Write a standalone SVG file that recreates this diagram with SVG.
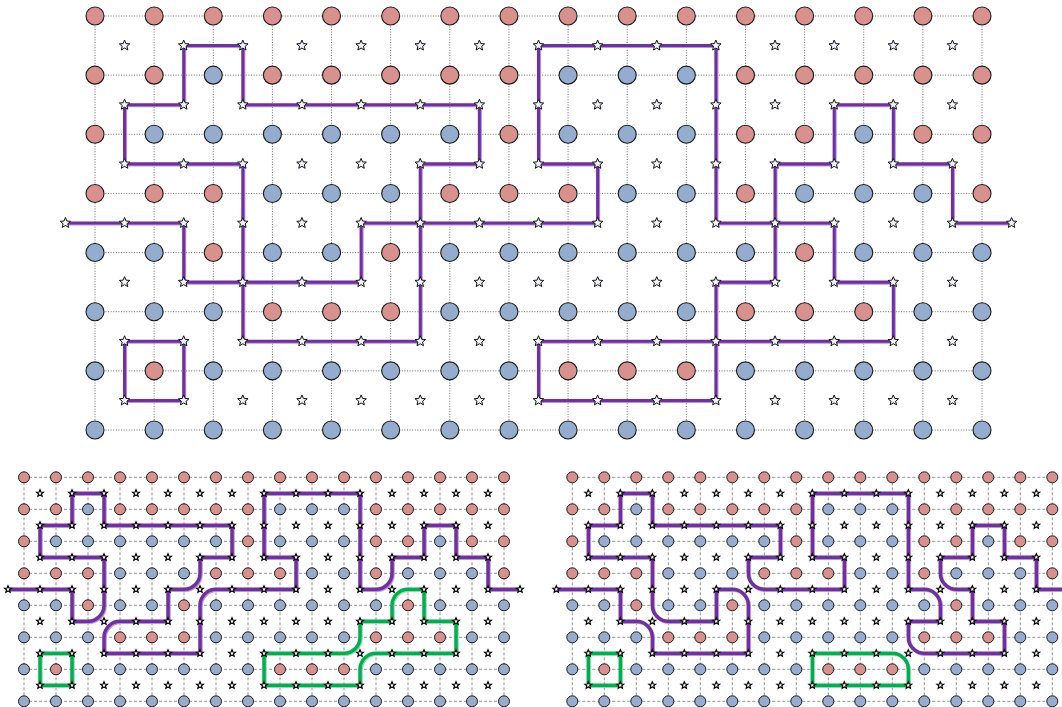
<svg xmlns="http://www.w3.org/2000/svg" xmlns:xlink="http://www.w3.org/1999/xlink" width="1062" height="707" viewBox="0 0 1062 707">
<style>
.r{fill:#d8918c}
.b{fill:#94adcf}
.tn circle{stroke:#1a1a1a;stroke-width:1.1}
.bn circle{stroke:#1a1a1a;stroke-width:1}
.tg{fill:none;stroke:#6e6e6e;stroke-width:1;stroke-dasharray:1 1.6}
.bg{fill:none;stroke:#939393;stroke-width:1;stroke-dasharray:3 2}
.pd{fill:none;stroke:#7030a0;stroke-linejoin:miter}
.pl{fill:none;stroke:#b796d8;stroke-linejoin:miter}
.gd{fill:none;stroke:#00b050;stroke-linejoin:miter}
.gl{fill:none;stroke:#8edcab;stroke-linejoin:miter}
.tw{stroke-width:0.052}
.bw{stroke-width:0.11}
</style>
<defs>
<path id="ts" d="M0-5.5L1.45-2L5.23-1.7L2.36 0.77L3.23 4.45L0 2.48L-3.23 4.45L-2.36 0.77L-5.23-1.7L-1.45-2Z" fill="#eef3fa" stroke="#111" stroke-width="1"/>
<path id="bs" d="M0-3.6L0.95-1.31L3.42-1.11L1.54 0.5L2.12 2.91L0 1.62L-2.12 2.91L-1.54 0.5L-3.42-1.11L-0.95-1.31Z" fill="#fff" stroke="#000" stroke-width="1.2"/>
</defs>

<g id="grids">
<path id="grid-top" class="tg" d="M95 16H982M95 75.14H982M95 134.29H982M95 193.43H982M95 252.57H982M95 311.71H982M95 370.86H982M95 430H982M95 16V430M154.13 16V430M213.27 16V430M272.4 16V430M331.53 16V430M390.67 16V430M449.8 16V430M508.93 16V430M568.07 16V430M627.2 16V430M686.33 16V430M745.47 16V430M804.6 16V430M863.73 16V430M922.87 16V430M982 16V430"/>
<path id="grid-bl" class="bg" d="M24 477.3H504M24 509.3H504M24 541.3H504M24 573.3H504M24 605.3H504M24 637.3H504M24 669.3H504M24 701.3H504M24 477.3V701.3M56 477.3V701.3M88 477.3V701.3M120 477.3V701.3M152 477.3V701.3M184 477.3V701.3M216 477.3V701.3M248 477.3V701.3M280 477.3V701.3M312 477.3V701.3M344 477.3V701.3M376 477.3V701.3M408 477.3V701.3M440 477.3V701.3M472 477.3V701.3M504 477.3V701.3"/>
<path id="grid-br" class="bg" transform="translate(548.3 0)" d="M24 477.3H504M24 509.3H504M24 541.3H504M24 573.3H504M24 605.3H504M24 637.3H504M24 669.3H504M24 701.3H504M24 477.3V701.3M56 477.3V701.3M88 477.3V701.3M120 477.3V701.3M152 477.3V701.3M184 477.3V701.3M216 477.3V701.3M248 477.3V701.3M280 477.3V701.3M312 477.3V701.3M344 477.3V701.3M376 477.3V701.3M408 477.3V701.3M440 477.3V701.3M472 477.3V701.3M504 477.3V701.3"/>
</g>

<g id="connectors">
<g id="conn-top">
<path class="pl tw" transform="translate(125.567 46.571) scale(59.133 59.143)" d="M-1 3H1V4H2V2H0V1H1V0H2V1H6V2H5V3H4V4H2V5H5V3H8V2H7V0H10V3H11V2H12V1H13V2H14V3H15M11 3V4H10V6H7V5H13V4H12V3ZM0 5H1V6H0Z"/>
<path class="pd tw" transform="translate(124.567 45.571) scale(59.133 59.143)" d="M-1 3H1V4H2V2H0V1H1V0H2V1H6V2H5V3H4V4H2V5H5V3H8V2H7V0H10V3H11V2H12V1H13V2H14V3H15M11 3V4H10V6H7V5H13V4H12V3ZM0 5H1V6H0Z"/>
</g>
<g id="conn-bl">
<path class="pl bw" transform="translate(41 494.3) scale(32)" d="M-1 3H1V4H1.5A.5 .5 0 0 0 2 3.5V2H0V1H1V0H2V1H6V2H5V2.5A.5 .5 0 0 1 4.5 3H4V4H2.5A.5 .5 0 0 0 2 4.5V5H5V3.5A.5 .5 0 0 1 5.5 3H8V2H7V0H10V3H10.5A.5 .5 0 0 0 11 2.5V2H12V1H13V2H14V3H15"/>
<path class="gl bw" transform="translate(41 494.3) scale(32)" d="M11 3.5V4H10V4.5A.5 .5 0 0 1 9.5 5H7V6H10V5.5A.5 .5 0 0 1 10.5 5H13V4H12V3H11.5A.5 .5 0 0 0 11 3.5ZM0 5H1V6H0Z"/>
<path class="pd bw" transform="translate(40 493.3) scale(32)" d="M-1 3H1V4H1.5A.5 .5 0 0 0 2 3.5V2H0V1H1V0H2V1H6V2H5V2.5A.5 .5 0 0 1 4.5 3H4V4H2.5A.5 .5 0 0 0 2 4.5V5H5V3.5A.5 .5 0 0 1 5.5 3H8V2H7V0H10V3H10.5A.5 .5 0 0 0 11 2.5V2H12V1H13V2H14V3H15"/>
<path class="gd bw" transform="translate(40 493.3) scale(32)" d="M11 3.5V4H10V4.5A.5 .5 0 0 1 9.5 5H7V6H10V5.5A.5 .5 0 0 1 10.5 5H13V4H12V3H11.5A.5 .5 0 0 0 11 3.5ZM0 5H1V6H0Z"/>
</g>
<g id="conn-br">
<path class="pl bw" transform="translate(589.3 494.3) scale(32)" d="M-1 3H1V4H1.5A.5 .5 0 0 1 2 4.5V5H5V3.5A.5 .5 0 0 0 4.5 3H4V4H2.5A.5 .5 0 0 1 2 3.5V2H0V1H1V0H2V1H6V2H5V2.5A.5 .5 0 0 0 5.5 3H8V2H7V0H10V3H10.5A.5 .5 0 0 1 11 3.5V4H10V4.5A.5 .5 0 0 0 10.5 5H13V4H12V3H11.5A.5 .5 0 0 1 11 2.5V2H12V1H13V2H14V3H15"/>
<path class="gl bw" transform="translate(589.3 494.3) scale(32)" d="M9.5 5H7V6H10V5.5A.5 .5 0 0 0 9.5 5ZM0 5H1V6H0Z"/>
<path class="pd bw" transform="translate(588.3 493.3) scale(32)" d="M-1 3H1V4H1.5A.5 .5 0 0 1 2 4.5V5H5V3.5A.5 .5 0 0 0 4.5 3H4V4H2.5A.5 .5 0 0 1 2 3.5V2H0V1H1V0H2V1H6V2H5V2.5A.5 .5 0 0 0 5.5 3H8V2H7V0H10V3H10.5A.5 .5 0 0 1 11 3.5V4H10V4.5A.5 .5 0 0 0 10.5 5H13V4H12V3H11.5A.5 .5 0 0 1 11 2.5V2H12V1H13V2H14V3H15"/>
<path class="gd bw" transform="translate(588.3 493.3) scale(32)" d="M9.5 5H7V6H10V5.5A.5 .5 0 0 0 9.5 5ZM0 5H1V6H0Z"/>
</g>
</g>

<g id="nodes-top" class="tn">
<g id="t-row0" transform="translate(0 16)"><circle class="r" cx="95" r="9"/><circle class="r" cx="154.13" r="9"/><circle class="r" cx="213.27" r="9"/><circle class="r" cx="272.4" r="9"/><circle class="r" cx="331.53" r="9"/><circle class="r" cx="390.67" r="9"/><circle class="r" cx="449.8" r="9"/><circle class="r" cx="508.93" r="9"/><circle class="r" cx="568.07" r="9"/><circle class="r" cx="627.2" r="9"/><circle class="r" cx="686.33" r="9"/><circle class="r" cx="745.47" r="9"/><circle class="r" cx="804.6" r="9"/><circle class="r" cx="863.73" r="9"/><circle class="r" cx="922.87" r="9"/><circle class="r" cx="982" r="9"/></g>
<g id="t-row1" transform="translate(0 75.14)"><circle class="r" cx="95" r="9"/><circle class="r" cx="154.13" r="9"/><circle class="b" cx="213.27" r="9"/><circle class="r" cx="272.4" r="9"/><circle class="r" cx="331.53" r="9"/><circle class="r" cx="390.67" r="9"/><circle class="r" cx="449.8" r="9"/><circle class="r" cx="508.93" r="9"/><circle class="b" cx="568.07" r="9"/><circle class="b" cx="627.2" r="9"/><circle class="b" cx="686.33" r="9"/><circle class="r" cx="745.47" r="9"/><circle class="r" cx="804.6" r="9"/><circle class="r" cx="863.73" r="9"/><circle class="r" cx="922.87" r="9"/><circle class="r" cx="982" r="9"/></g>
<g id="t-row2" transform="translate(0 134.29)"><circle class="r" cx="95" r="9"/><circle class="b" cx="154.13" r="9"/><circle class="b" cx="213.27" r="9"/><circle class="b" cx="272.4" r="9"/><circle class="b" cx="331.53" r="9"/><circle class="b" cx="390.67" r="9"/><circle class="b" cx="449.8" r="9"/><circle class="r" cx="508.93" r="9"/><circle class="b" cx="568.07" r="9"/><circle class="b" cx="627.2" r="9"/><circle class="b" cx="686.33" r="9"/><circle class="r" cx="745.47" r="9"/><circle class="r" cx="804.6" r="9"/><circle class="b" cx="863.73" r="9"/><circle class="r" cx="922.87" r="9"/><circle class="r" cx="982" r="9"/></g>
<g id="t-row3" transform="translate(0 193.43)"><circle class="r" cx="95" r="9"/><circle class="r" cx="154.13" r="9"/><circle class="r" cx="213.27" r="9"/><circle class="b" cx="272.4" r="9"/><circle class="b" cx="331.53" r="9"/><circle class="b" cx="390.67" r="9"/><circle class="r" cx="449.8" r="9"/><circle class="r" cx="508.93" r="9"/><circle class="r" cx="568.07" r="9"/><circle class="b" cx="627.2" r="9"/><circle class="b" cx="686.33" r="9"/><circle class="r" cx="745.47" r="9"/><circle class="b" cx="804.6" r="9"/><circle class="b" cx="863.73" r="9"/><circle class="b" cx="922.87" r="9"/><circle class="r" cx="982" r="9"/></g>
<g id="t-row4" transform="translate(0 252.57)"><circle class="b" cx="95" r="9"/><circle class="b" cx="154.13" r="9"/><circle class="r" cx="213.27" r="9"/><circle class="b" cx="272.4" r="9"/><circle class="b" cx="331.53" r="9"/><circle class="r" cx="390.67" r="9"/><circle class="b" cx="449.8" r="9"/><circle class="b" cx="508.93" r="9"/><circle class="b" cx="568.07" r="9"/><circle class="b" cx="627.2" r="9"/><circle class="b" cx="686.33" r="9"/><circle class="b" cx="745.47" r="9"/><circle class="r" cx="804.6" r="9"/><circle class="b" cx="863.73" r="9"/><circle class="b" cx="922.87" r="9"/><circle class="b" cx="982" r="9"/></g>
<g id="t-row5" transform="translate(0 311.71)"><circle class="b" cx="95" r="9"/><circle class="b" cx="154.13" r="9"/><circle class="b" cx="213.27" r="9"/><circle class="r" cx="272.4" r="9"/><circle class="r" cx="331.53" r="9"/><circle class="r" cx="390.67" r="9"/><circle class="b" cx="449.8" r="9"/><circle class="b" cx="508.93" r="9"/><circle class="b" cx="568.07" r="9"/><circle class="b" cx="627.2" r="9"/><circle class="b" cx="686.33" r="9"/><circle class="r" cx="745.47" r="9"/><circle class="r" cx="804.6" r="9"/><circle class="r" cx="863.73" r="9"/><circle class="b" cx="922.87" r="9"/><circle class="b" cx="982" r="9"/></g>
<g id="t-row6" transform="translate(0 370.86)"><circle class="b" cx="95" r="9"/><circle class="r" cx="154.13" r="9"/><circle class="b" cx="213.27" r="9"/><circle class="b" cx="272.4" r="9"/><circle class="b" cx="331.53" r="9"/><circle class="b" cx="390.67" r="9"/><circle class="b" cx="449.8" r="9"/><circle class="b" cx="508.93" r="9"/><circle class="r" cx="568.07" r="9"/><circle class="r" cx="627.2" r="9"/><circle class="r" cx="686.33" r="9"/><circle class="b" cx="745.47" r="9"/><circle class="b" cx="804.6" r="9"/><circle class="b" cx="863.73" r="9"/><circle class="b" cx="922.87" r="9"/><circle class="b" cx="982" r="9"/></g>
<g id="t-row7" transform="translate(0 430)"><circle class="b" cx="95" r="9"/><circle class="b" cx="154.13" r="9"/><circle class="b" cx="213.27" r="9"/><circle class="b" cx="272.4" r="9"/><circle class="b" cx="331.53" r="9"/><circle class="b" cx="390.67" r="9"/><circle class="b" cx="449.8" r="9"/><circle class="b" cx="508.93" r="9"/><circle class="b" cx="568.07" r="9"/><circle class="b" cx="627.2" r="9"/><circle class="b" cx="686.33" r="9"/><circle class="b" cx="745.47" r="9"/><circle class="b" cx="804.6" r="9"/><circle class="b" cx="863.73" r="9"/><circle class="b" cx="922.87" r="9"/><circle class="b" cx="982" r="9"/></g>
</g>

<g id="stars-top">
<g transform="translate(0 45.57)"><use href="#ts" x="124.57"/><use href="#ts" x="183.7"/><use href="#ts" x="242.83"/><use href="#ts" x="301.97"/><use href="#ts" x="361.1"/><use href="#ts" x="420.23"/><use href="#ts" x="479.37"/><use href="#ts" x="538.5"/><use href="#ts" x="597.63"/><use href="#ts" x="656.77"/><use href="#ts" x="715.9"/><use href="#ts" x="775.03"/><use href="#ts" x="834.17"/><use href="#ts" x="893.3"/><use href="#ts" x="952.43"/></g>
<g transform="translate(0 104.71)"><use href="#ts" x="124.57"/><use href="#ts" x="183.7"/><use href="#ts" x="242.83"/><use href="#ts" x="301.97"/><use href="#ts" x="361.1"/><use href="#ts" x="420.23"/><use href="#ts" x="479.37"/><use href="#ts" x="538.5"/><use href="#ts" x="597.63"/><use href="#ts" x="656.77"/><use href="#ts" x="715.9"/><use href="#ts" x="775.03"/><use href="#ts" x="834.17"/><use href="#ts" x="893.3"/><use href="#ts" x="952.43"/></g>
<g transform="translate(0 163.86)"><use href="#ts" x="124.57"/><use href="#ts" x="183.7"/><use href="#ts" x="242.83"/><use href="#ts" x="301.97"/><use href="#ts" x="361.1"/><use href="#ts" x="420.23"/><use href="#ts" x="479.37"/><use href="#ts" x="538.5"/><use href="#ts" x="597.63"/><use href="#ts" x="656.77"/><use href="#ts" x="715.9"/><use href="#ts" x="775.03"/><use href="#ts" x="834.17"/><use href="#ts" x="893.3"/><use href="#ts" x="952.43"/></g>
<g transform="translate(0 223)"><use href="#ts" x="65.43"/><use href="#ts" x="124.57"/><use href="#ts" x="183.7"/><use href="#ts" x="242.83"/><use href="#ts" x="301.97"/><use href="#ts" x="361.1"/><use href="#ts" x="420.23"/><use href="#ts" x="479.37"/><use href="#ts" x="538.5"/><use href="#ts" x="597.63"/><use href="#ts" x="656.77"/><use href="#ts" x="715.9"/><use href="#ts" x="775.03"/><use href="#ts" x="834.17"/><use href="#ts" x="893.3"/><use href="#ts" x="952.43"/><use href="#ts" x="1011.57"/></g>
<g transform="translate(0 282.14)"><use href="#ts" x="124.57"/><use href="#ts" x="183.7"/><use href="#ts" x="242.83"/><use href="#ts" x="301.97"/><use href="#ts" x="361.1"/><use href="#ts" x="420.23"/><use href="#ts" x="479.37"/><use href="#ts" x="538.5"/><use href="#ts" x="597.63"/><use href="#ts" x="656.77"/><use href="#ts" x="715.9"/><use href="#ts" x="775.03"/><use href="#ts" x="834.17"/><use href="#ts" x="893.3"/><use href="#ts" x="952.43"/></g>
<g transform="translate(0 341.29)"><use href="#ts" x="124.57"/><use href="#ts" x="183.7"/><use href="#ts" x="242.83"/><use href="#ts" x="301.97"/><use href="#ts" x="361.1"/><use href="#ts" x="420.23"/><use href="#ts" x="479.37"/><use href="#ts" x="538.5"/><use href="#ts" x="597.63"/><use href="#ts" x="656.77"/><use href="#ts" x="715.9"/><use href="#ts" x="775.03"/><use href="#ts" x="834.17"/><use href="#ts" x="893.3"/><use href="#ts" x="952.43"/></g>
<g transform="translate(0 400.43)"><use href="#ts" x="124.57"/><use href="#ts" x="183.7"/><use href="#ts" x="242.83"/><use href="#ts" x="301.97"/><use href="#ts" x="361.1"/><use href="#ts" x="420.23"/><use href="#ts" x="479.37"/><use href="#ts" x="538.5"/><use href="#ts" x="597.63"/><use href="#ts" x="656.77"/><use href="#ts" x="715.9"/><use href="#ts" x="775.03"/><use href="#ts" x="834.17"/><use href="#ts" x="893.3"/><use href="#ts" x="952.43"/></g>
</g>

<g id="nodes-bl" class="bn">
<g transform="translate(24 477.3)"><circle class="r" cx="0" r="5.5"/><circle class="r" cx="32" r="5.5"/><circle class="r" cx="64" r="5.5"/><circle class="r" cx="96" r="5.5"/><circle class="r" cx="128" r="5.5"/><circle class="r" cx="160" r="5.5"/><circle class="r" cx="192" r="5.5"/><circle class="r" cx="224" r="5.5"/><circle class="r" cx="256" r="5.5"/><circle class="r" cx="288" r="5.5"/><circle class="r" cx="320" r="5.5"/><circle class="r" cx="352" r="5.5"/><circle class="r" cx="384" r="5.5"/><circle class="r" cx="416" r="5.5"/><circle class="r" cx="448" r="5.5"/><circle class="r" cx="480" r="5.5"/></g>
<g transform="translate(24 509.3)"><circle class="r" cx="0" r="5.5"/><circle class="r" cx="32" r="5.5"/><circle class="b" cx="64" r="5.5"/><circle class="r" cx="96" r="5.5"/><circle class="r" cx="128" r="5.5"/><circle class="r" cx="160" r="5.5"/><circle class="r" cx="192" r="5.5"/><circle class="r" cx="224" r="5.5"/><circle class="b" cx="256" r="5.5"/><circle class="b" cx="288" r="5.5"/><circle class="b" cx="320" r="5.5"/><circle class="r" cx="352" r="5.5"/><circle class="r" cx="384" r="5.5"/><circle class="r" cx="416" r="5.5"/><circle class="r" cx="448" r="5.5"/><circle class="r" cx="480" r="5.5"/></g>
<g transform="translate(24 541.3)"><circle class="r" cx="0" r="5.5"/><circle class="b" cx="32" r="5.5"/><circle class="b" cx="64" r="5.5"/><circle class="b" cx="96" r="5.5"/><circle class="b" cx="128" r="5.5"/><circle class="b" cx="160" r="5.5"/><circle class="b" cx="192" r="5.5"/><circle class="r" cx="224" r="5.5"/><circle class="b" cx="256" r="5.5"/><circle class="b" cx="288" r="5.5"/><circle class="b" cx="320" r="5.5"/><circle class="r" cx="352" r="5.5"/><circle class="r" cx="384" r="5.5"/><circle class="b" cx="416" r="5.5"/><circle class="r" cx="448" r="5.5"/><circle class="r" cx="480" r="5.5"/></g>
<g transform="translate(24 573.3)"><circle class="r" cx="0" r="5.5"/><circle class="r" cx="32" r="5.5"/><circle class="r" cx="64" r="5.5"/><circle class="b" cx="96" r="5.5"/><circle class="b" cx="128" r="5.5"/><circle class="b" cx="160" r="5.5"/><circle class="r" cx="192" r="5.5"/><circle class="r" cx="224" r="5.5"/><circle class="r" cx="256" r="5.5"/><circle class="b" cx="288" r="5.5"/><circle class="b" cx="320" r="5.5"/><circle class="r" cx="352" r="5.5"/><circle class="b" cx="384" r="5.5"/><circle class="b" cx="416" r="5.5"/><circle class="b" cx="448" r="5.5"/><circle class="r" cx="480" r="5.5"/></g>
<g transform="translate(24 605.3)"><circle class="b" cx="0" r="5.5"/><circle class="b" cx="32" r="5.5"/><circle class="r" cx="64" r="5.5"/><circle class="b" cx="96" r="5.5"/><circle class="b" cx="128" r="5.5"/><circle class="r" cx="160" r="5.5"/><circle class="b" cx="192" r="5.5"/><circle class="b" cx="224" r="5.5"/><circle class="b" cx="256" r="5.5"/><circle class="b" cx="288" r="5.5"/><circle class="b" cx="320" r="5.5"/><circle class="b" cx="352" r="5.5"/><circle class="r" cx="384" r="5.5"/><circle class="b" cx="416" r="5.5"/><circle class="b" cx="448" r="5.5"/><circle class="b" cx="480" r="5.5"/></g>
<g transform="translate(24 637.3)"><circle class="b" cx="0" r="5.5"/><circle class="b" cx="32" r="5.5"/><circle class="b" cx="64" r="5.5"/><circle class="r" cx="96" r="5.5"/><circle class="r" cx="128" r="5.5"/><circle class="r" cx="160" r="5.5"/><circle class="b" cx="192" r="5.5"/><circle class="b" cx="224" r="5.5"/><circle class="b" cx="256" r="5.5"/><circle class="b" cx="288" r="5.5"/><circle class="b" cx="320" r="5.5"/><circle class="r" cx="352" r="5.5"/><circle class="r" cx="384" r="5.5"/><circle class="r" cx="416" r="5.5"/><circle class="b" cx="448" r="5.5"/><circle class="b" cx="480" r="5.5"/></g>
<g transform="translate(24 669.3)"><circle class="b" cx="0" r="5.5"/><circle class="r" cx="32" r="5.5"/><circle class="b" cx="64" r="5.5"/><circle class="b" cx="96" r="5.5"/><circle class="b" cx="128" r="5.5"/><circle class="b" cx="160" r="5.5"/><circle class="b" cx="192" r="5.5"/><circle class="b" cx="224" r="5.5"/><circle class="r" cx="256" r="5.5"/><circle class="r" cx="288" r="5.5"/><circle class="r" cx="320" r="5.5"/><circle class="b" cx="352" r="5.5"/><circle class="b" cx="384" r="5.5"/><circle class="b" cx="416" r="5.5"/><circle class="b" cx="448" r="5.5"/><circle class="b" cx="480" r="5.5"/></g>
<g transform="translate(24 701.3)"><circle class="b" cx="0" r="5.5"/><circle class="b" cx="32" r="5.5"/><circle class="b" cx="64" r="5.5"/><circle class="b" cx="96" r="5.5"/><circle class="b" cx="128" r="5.5"/><circle class="b" cx="160" r="5.5"/><circle class="b" cx="192" r="5.5"/><circle class="b" cx="224" r="5.5"/><circle class="b" cx="256" r="5.5"/><circle class="b" cx="288" r="5.5"/><circle class="b" cx="320" r="5.5"/><circle class="b" cx="352" r="5.5"/><circle class="b" cx="384" r="5.5"/><circle class="b" cx="416" r="5.5"/><circle class="b" cx="448" r="5.5"/><circle class="b" cx="480" r="5.5"/></g>
</g>

<g id="nodes-br" class="bn">
<g transform="translate(572.3 477.3)"><circle class="r" cx="0" r="5.5"/><circle class="r" cx="32" r="5.5"/><circle class="r" cx="64" r="5.5"/><circle class="r" cx="96" r="5.5"/><circle class="r" cx="128" r="5.5"/><circle class="r" cx="160" r="5.5"/><circle class="r" cx="192" r="5.5"/><circle class="r" cx="224" r="5.5"/><circle class="r" cx="256" r="5.5"/><circle class="r" cx="288" r="5.5"/><circle class="r" cx="320" r="5.5"/><circle class="r" cx="352" r="5.5"/><circle class="r" cx="384" r="5.5"/><circle class="r" cx="416" r="5.5"/><circle class="r" cx="448" r="5.5"/><circle class="r" cx="480" r="5.5"/></g>
<g transform="translate(572.3 509.3)"><circle class="r" cx="0" r="5.5"/><circle class="r" cx="32" r="5.5"/><circle class="b" cx="64" r="5.5"/><circle class="r" cx="96" r="5.5"/><circle class="r" cx="128" r="5.5"/><circle class="r" cx="160" r="5.5"/><circle class="r" cx="192" r="5.5"/><circle class="r" cx="224" r="5.5"/><circle class="b" cx="256" r="5.5"/><circle class="b" cx="288" r="5.5"/><circle class="b" cx="320" r="5.5"/><circle class="r" cx="352" r="5.5"/><circle class="r" cx="384" r="5.5"/><circle class="r" cx="416" r="5.5"/><circle class="r" cx="448" r="5.5"/><circle class="r" cx="480" r="5.5"/></g>
<g transform="translate(572.3 541.3)"><circle class="r" cx="0" r="5.5"/><circle class="b" cx="32" r="5.5"/><circle class="b" cx="64" r="5.5"/><circle class="b" cx="96" r="5.5"/><circle class="b" cx="128" r="5.5"/><circle class="b" cx="160" r="5.5"/><circle class="b" cx="192" r="5.5"/><circle class="r" cx="224" r="5.5"/><circle class="b" cx="256" r="5.5"/><circle class="b" cx="288" r="5.5"/><circle class="b" cx="320" r="5.5"/><circle class="r" cx="352" r="5.5"/><circle class="r" cx="384" r="5.5"/><circle class="b" cx="416" r="5.5"/><circle class="r" cx="448" r="5.5"/><circle class="r" cx="480" r="5.5"/></g>
<g transform="translate(572.3 573.3)"><circle class="r" cx="0" r="5.5"/><circle class="r" cx="32" r="5.5"/><circle class="r" cx="64" r="5.5"/><circle class="b" cx="96" r="5.5"/><circle class="b" cx="128" r="5.5"/><circle class="b" cx="160" r="5.5"/><circle class="r" cx="192" r="5.5"/><circle class="r" cx="224" r="5.5"/><circle class="r" cx="256" r="5.5"/><circle class="b" cx="288" r="5.5"/><circle class="b" cx="320" r="5.5"/><circle class="r" cx="352" r="5.5"/><circle class="b" cx="384" r="5.5"/><circle class="b" cx="416" r="5.5"/><circle class="b" cx="448" r="5.5"/><circle class="r" cx="480" r="5.5"/></g>
<g transform="translate(572.3 605.3)"><circle class="b" cx="0" r="5.5"/><circle class="b" cx="32" r="5.5"/><circle class="r" cx="64" r="5.5"/><circle class="b" cx="96" r="5.5"/><circle class="b" cx="128" r="5.5"/><circle class="r" cx="160" r="5.5"/><circle class="b" cx="192" r="5.5"/><circle class="b" cx="224" r="5.5"/><circle class="b" cx="256" r="5.5"/><circle class="b" cx="288" r="5.5"/><circle class="b" cx="320" r="5.5"/><circle class="b" cx="352" r="5.5"/><circle class="r" cx="384" r="5.5"/><circle class="b" cx="416" r="5.5"/><circle class="b" cx="448" r="5.5"/><circle class="b" cx="480" r="5.5"/></g>
<g transform="translate(572.3 637.3)"><circle class="b" cx="0" r="5.5"/><circle class="b" cx="32" r="5.5"/><circle class="b" cx="64" r="5.5"/><circle class="r" cx="96" r="5.5"/><circle class="r" cx="128" r="5.5"/><circle class="r" cx="160" r="5.5"/><circle class="b" cx="192" r="5.5"/><circle class="b" cx="224" r="5.5"/><circle class="b" cx="256" r="5.5"/><circle class="b" cx="288" r="5.5"/><circle class="b" cx="320" r="5.5"/><circle class="r" cx="352" r="5.5"/><circle class="r" cx="384" r="5.5"/><circle class="r" cx="416" r="5.5"/><circle class="b" cx="448" r="5.5"/><circle class="b" cx="480" r="5.5"/></g>
<g transform="translate(572.3 669.3)"><circle class="b" cx="0" r="5.5"/><circle class="r" cx="32" r="5.5"/><circle class="b" cx="64" r="5.5"/><circle class="b" cx="96" r="5.5"/><circle class="b" cx="128" r="5.5"/><circle class="b" cx="160" r="5.5"/><circle class="b" cx="192" r="5.5"/><circle class="b" cx="224" r="5.5"/><circle class="r" cx="256" r="5.5"/><circle class="r" cx="288" r="5.5"/><circle class="r" cx="320" r="5.5"/><circle class="b" cx="352" r="5.5"/><circle class="b" cx="384" r="5.5"/><circle class="b" cx="416" r="5.5"/><circle class="b" cx="448" r="5.5"/><circle class="b" cx="480" r="5.5"/></g>
<g transform="translate(572.3 701.3)"><circle class="b" cx="0" r="5.5"/><circle class="b" cx="32" r="5.5"/><circle class="b" cx="64" r="5.5"/><circle class="b" cx="96" r="5.5"/><circle class="b" cx="128" r="5.5"/><circle class="b" cx="160" r="5.5"/><circle class="b" cx="192" r="5.5"/><circle class="b" cx="224" r="5.5"/><circle class="b" cx="256" r="5.5"/><circle class="b" cx="288" r="5.5"/><circle class="b" cx="320" r="5.5"/><circle class="b" cx="352" r="5.5"/><circle class="b" cx="384" r="5.5"/><circle class="b" cx="416" r="5.5"/><circle class="b" cx="448" r="5.5"/><circle class="b" cx="480" r="5.5"/></g>
</g>

<g id="stars-bl">
<g transform="translate(40 493.3)"><use href="#bs" x="0"/><use href="#bs" x="32"/><use href="#bs" x="64"/><use href="#bs" x="96"/><use href="#bs" x="128"/><use href="#bs" x="160"/><use href="#bs" x="192"/><use href="#bs" x="224"/><use href="#bs" x="256"/><use href="#bs" x="288"/><use href="#bs" x="320"/><use href="#bs" x="352"/><use href="#bs" x="384"/><use href="#bs" x="416"/><use href="#bs" x="448"/></g>
<g transform="translate(40 525.3)"><use href="#bs" x="0"/><use href="#bs" x="32"/><use href="#bs" x="64"/><use href="#bs" x="96"/><use href="#bs" x="128"/><use href="#bs" x="160"/><use href="#bs" x="192"/><use href="#bs" x="224"/><use href="#bs" x="256"/><use href="#bs" x="288"/><use href="#bs" x="320"/><use href="#bs" x="352"/><use href="#bs" x="384"/><use href="#bs" x="416"/><use href="#bs" x="448"/></g>
<g transform="translate(40 557.3)"><use href="#bs" x="0"/><use href="#bs" x="32"/><use href="#bs" x="64"/><use href="#bs" x="96"/><use href="#bs" x="128"/><use href="#bs" x="160"/><use href="#bs" x="192"/><use href="#bs" x="224"/><use href="#bs" x="256"/><use href="#bs" x="288"/><use href="#bs" x="320"/><use href="#bs" x="352"/><use href="#bs" x="384"/><use href="#bs" x="416"/><use href="#bs" x="448"/></g>
<g transform="translate(40 589.3)"><use href="#bs" x="-32"/><use href="#bs" x="0"/><use href="#bs" x="32"/><use href="#bs" x="64"/><use href="#bs" x="96"/><use href="#bs" x="128"/><use href="#bs" x="160"/><use href="#bs" x="192"/><use href="#bs" x="224"/><use href="#bs" x="256"/><use href="#bs" x="288"/><use href="#bs" x="320"/><use href="#bs" x="352"/><use href="#bs" x="384"/><use href="#bs" x="416"/><use href="#bs" x="448"/><use href="#bs" x="480"/></g>
<g transform="translate(40 621.3)"><use href="#bs" x="0"/><use href="#bs" x="32"/><use href="#bs" x="64"/><use href="#bs" x="96"/><use href="#bs" x="128"/><use href="#bs" x="160"/><use href="#bs" x="192"/><use href="#bs" x="224"/><use href="#bs" x="256"/><use href="#bs" x="288"/><use href="#bs" x="320"/><use href="#bs" x="352"/><use href="#bs" x="384"/><use href="#bs" x="416"/><use href="#bs" x="448"/></g>
<g transform="translate(40 653.3)"><use href="#bs" x="0"/><use href="#bs" x="32"/><use href="#bs" x="64"/><use href="#bs" x="96"/><use href="#bs" x="128"/><use href="#bs" x="160"/><use href="#bs" x="192"/><use href="#bs" x="224"/><use href="#bs" x="256"/><use href="#bs" x="288"/><use href="#bs" x="320"/><use href="#bs" x="352"/><use href="#bs" x="384"/><use href="#bs" x="416"/><use href="#bs" x="448"/></g>
<g transform="translate(40 685.3)"><use href="#bs" x="0"/><use href="#bs" x="32"/><use href="#bs" x="64"/><use href="#bs" x="96"/><use href="#bs" x="128"/><use href="#bs" x="160"/><use href="#bs" x="192"/><use href="#bs" x="224"/><use href="#bs" x="256"/><use href="#bs" x="288"/><use href="#bs" x="320"/><use href="#bs" x="352"/><use href="#bs" x="384"/><use href="#bs" x="416"/><use href="#bs" x="448"/></g>
</g>

<g id="stars-br">
<g transform="translate(588.3 493.3)"><use href="#bs" x="0"/><use href="#bs" x="32"/><use href="#bs" x="64"/><use href="#bs" x="96"/><use href="#bs" x="128"/><use href="#bs" x="160"/><use href="#bs" x="192"/><use href="#bs" x="224"/><use href="#bs" x="256"/><use href="#bs" x="288"/><use href="#bs" x="320"/><use href="#bs" x="352"/><use href="#bs" x="384"/><use href="#bs" x="416"/><use href="#bs" x="448"/></g>
<g transform="translate(588.3 525.3)"><use href="#bs" x="0"/><use href="#bs" x="32"/><use href="#bs" x="64"/><use href="#bs" x="96"/><use href="#bs" x="128"/><use href="#bs" x="160"/><use href="#bs" x="192"/><use href="#bs" x="224"/><use href="#bs" x="256"/><use href="#bs" x="288"/><use href="#bs" x="320"/><use href="#bs" x="352"/><use href="#bs" x="384"/><use href="#bs" x="416"/><use href="#bs" x="448"/></g>
<g transform="translate(588.3 557.3)"><use href="#bs" x="0"/><use href="#bs" x="32"/><use href="#bs" x="64"/><use href="#bs" x="96"/><use href="#bs" x="128"/><use href="#bs" x="160"/><use href="#bs" x="192"/><use href="#bs" x="224"/><use href="#bs" x="256"/><use href="#bs" x="288"/><use href="#bs" x="320"/><use href="#bs" x="352"/><use href="#bs" x="384"/><use href="#bs" x="416"/><use href="#bs" x="448"/></g>
<g transform="translate(588.3 589.3)"><use href="#bs" x="-32"/><use href="#bs" x="0"/><use href="#bs" x="32"/><use href="#bs" x="64"/><use href="#bs" x="96"/><use href="#bs" x="128"/><use href="#bs" x="160"/><use href="#bs" x="192"/><use href="#bs" x="224"/><use href="#bs" x="256"/><use href="#bs" x="288"/><use href="#bs" x="320"/><use href="#bs" x="352"/><use href="#bs" x="384"/><use href="#bs" x="416"/><use href="#bs" x="448"/></g>
<g transform="translate(588.3 621.3)"><use href="#bs" x="0"/><use href="#bs" x="32"/><use href="#bs" x="64"/><use href="#bs" x="96"/><use href="#bs" x="128"/><use href="#bs" x="160"/><use href="#bs" x="192"/><use href="#bs" x="224"/><use href="#bs" x="256"/><use href="#bs" x="288"/><use href="#bs" x="320"/><use href="#bs" x="352"/><use href="#bs" x="384"/><use href="#bs" x="416"/><use href="#bs" x="448"/></g>
<g transform="translate(588.3 653.3)"><use href="#bs" x="0"/><use href="#bs" x="32"/><use href="#bs" x="64"/><use href="#bs" x="96"/><use href="#bs" x="128"/><use href="#bs" x="160"/><use href="#bs" x="192"/><use href="#bs" x="224"/><use href="#bs" x="256"/><use href="#bs" x="288"/><use href="#bs" x="320"/><use href="#bs" x="352"/><use href="#bs" x="384"/><use href="#bs" x="416"/><use href="#bs" x="448"/></g>
<g transform="translate(588.3 685.3)"><use href="#bs" x="0"/><use href="#bs" x="32"/><use href="#bs" x="64"/><use href="#bs" x="96"/><use href="#bs" x="128"/><use href="#bs" x="160"/><use href="#bs" x="192"/><use href="#bs" x="224"/><use href="#bs" x="256"/><use href="#bs" x="288"/><use href="#bs" x="320"/><use href="#bs" x="352"/><use href="#bs" x="384"/><use href="#bs" x="416"/><use href="#bs" x="448"/></g>
</g>
</svg>
